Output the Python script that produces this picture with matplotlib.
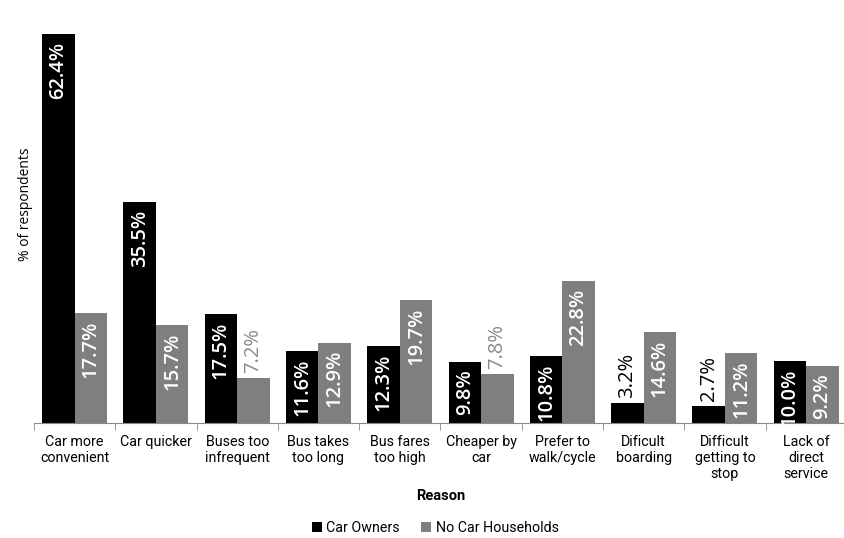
import matplotlib.pyplot as plt
import numpy as np

reasons = ["Car more\nconvenient", "Car quicker", "Buses too\ninfrequent", "Bus takes\ntoo long",
           "Bus fares\ntoo high", "Cheaper by\ncar", "Prefer to\nwalk/cycle", "Dificult\nboarding",
           "Difficult\ngetting to\nstop", "Lack of\ndirect\nservice"]
car_owners = [62.4, 35.5, 17.5, 11.6, 12.3, 9.8, 10.8, 3.2, 2.7, 10.0]
no_car = [17.7, 15.7, 7.2, 12.9, 19.7, 7.8, 22.8, 14.6, 11.2, 9.2]

narrow = ["Roboto", "DejaVu Sans"]
label_font = ["Open Sans", "DejaVu Sans"]
grey = "#7f7f7f"

fig = plt.figure(figsize=(8.45, 5.38), dpi=100)
ax = fig.add_axes([0.0402, 0.2138, 0.962, 0.7862])

x = np.arange(len(reasons))
w = 0.4
b1 = ax.bar(x - w / 2, car_owners, w, color="black", label="Car Owners")
b2 = ax.bar(x + w / 2, no_car, w, color=grey, label="No Car Households")

# value labels: inside the bar top when there is room, otherwise just above it
for bars, vals, col in [(b1, car_owners, "black"), (b2, no_car, "#8a8a8a")]:
    for bar, v in zip(bars, vals):
        cx = bar.get_x() + bar.get_width() / 2
        if v >= 9:
            ax.text(cx, v - 1.2, f"{v:.1f}%", rotation=90, ha="center", va="top",
                    color="white", fontsize=14.5, fontweight="semibold", family=label_font)
        else:
            ax.text(cx, v + 0.8, f"{v:.1f}%", rotation=90, ha="center", va="bottom",
                    color=col, fontsize=14.5, fontweight="normal", family=label_font)

ax.set_xlim(-0.5, len(reasons) - 0.5)
ax.set_ylim(0, 67.9)
ax.set_xticks(x)
ax.set_xticklabels(reasons, family=narrow, fontsize=10.3, linespacing=1.15)
ax.tick_params(axis="x", which="major", length=0, pad=9)
ax.set_xticks(np.arange(-0.5, len(reasons), 1), minor=True)
ax.tick_params(axis="x", which="minor", length=5, color="#888888")
ax.set_yticks([])
for s in ["top", "right", "left"]:
    ax.spines[s].set_visible(False)
ax.spines["bottom"].set_color("#888888")

ax.set_xlabel("Reason", family=narrow, fontsize=10.5, fontweight="bold", labelpad=6)
fig.text(0.03, 0.62, "% of respondents", rotation=90, ha="center", va="center",
         fontsize=10, family=label_font)

fig.legend(loc="center", bbox_to_anchor=(0.515, 0.018), ncol=2, frameon=False,
           prop={"family": narrow, "size": 10.3}, handlelength=0.7, handleheight=0.7,
           handletextpad=0.3, columnspacing=1.5)

fig.savefig("out.png", dpi=100)
